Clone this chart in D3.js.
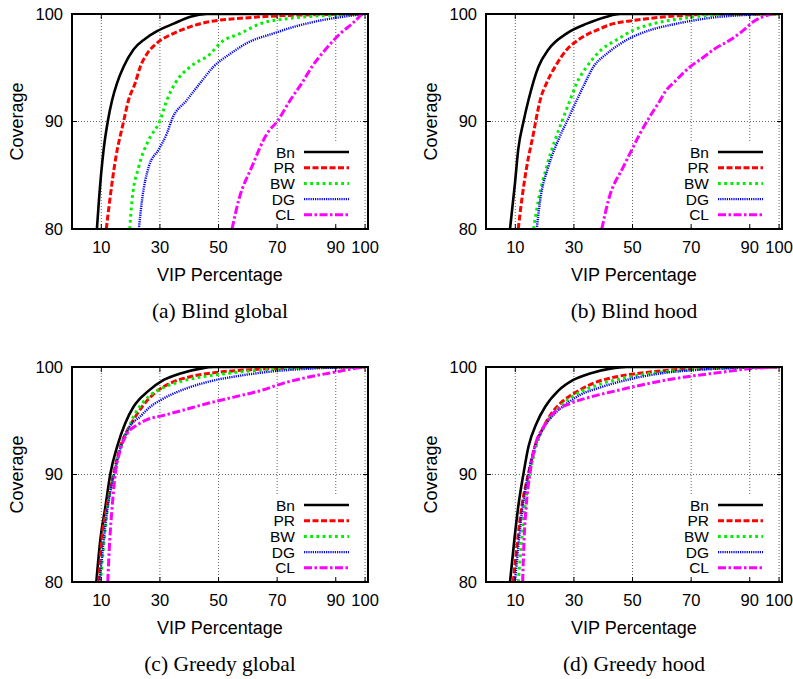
<!DOCTYPE html>
<html>
<head>
<meta charset="utf-8">
<script src="https://cdn.jsdelivr.net/npm/d3@7"></script>
<style>
body { margin: 0; background: #fff; }
svg { display: block; }
</style>
</head>
<body>
<svg width="793" height="679"></svg>
<script>
// tick values
const xTicks = [10, 30, 50, 70, 90, 100];
const yTicks = [80, 90, 100];
const seriesNames = ["Bn", "PR", "BW", "DG", "CL"];
const captions = ["(a) Blind global", "(b) Blind hood", "(c) Greedy global", "(d) Greedy hood"];

// (a) Blind global, [VIP %, coverage]
const blindGlobalBn = [[8.5,80],[9.2,82.7],[10.8,87.4],[12.2,90],[13.7,92],[15.4,93.6],[17.6,95.1],[21,96.7],[25,97.7],[29,98.4],[34.7,99.1],[40.4,99.75],[46,100],[100,100]];
const blindGlobalPR = [[11.7,80],[12.9,82.7],[14.8,86.4],[17.6,90],[19.3,92],[21.6,93.6],[23.3,95.1],[25.6,96.3],[29,97.3],[34.7,98.2],[39.2,98.7],[43.8,99.1],[49.5,99.4],[57.5,99.6],[72,99.85],[98.4,100]];
const blindGlobalBW = [[19.7,80],[20.5,82.7],[22.8,85.8],[26.2,88.3],[29.9,90],[32.4,92],[35.3,93.6],[40.4,95.1],[47.2,96.3],[50.6,97.3],[57.5,98.2],[64.3,99.1],[74.5,99.6],[89.3,99.9],[99,100]];
const blindGlobalDG = [[22.8,80],[23.9,82.7],[26.2,85.8],[29.6,87.4],[32.4,88.9],[34.1,90.2],[39.2,92],[43.8,93.6],[48.3,95.1],[54,96.3],[59.7,97.3],[68.8,98.2],[75.7,98.8],[84.8,99.4],[92.7,99.75],[99.5,100]];
const blindGlobalCL = [[54.6,80],[56.9,82.7],[61.4,85.8],[66.6,88.9],[70,90],[74.5,92],[78.5,93.6],[81.9,95.1],[86.5,96.7],[91.6,98.2],[95.6,99.1],[99,100]];

// (b) Blind hood
const blindHoodBn = [[8.2,80],[9.9,84.3],[11,87.4],[12.8,90],[14.5,92],[17.9,95.1],[21.3,96.7],[27.6,98.2],[34.4,99.1],[41.2,99.75],[45.8,100],[100,100]];
const blindHoodPR = [[11,80],[12.2,82.7],[13.9,85.8],[16.2,88.9],[17.3,90.5],[18.5,92],[20.7,93.6],[23.6,95.1],[27.6,96.7],[31.5,97.6],[37.8,98.5],[43.5,99.1],[50.3,99.4],[61.7,99.75],[78.8,100],[100,100]];
const blindHoodBW = [[16.2,80],[17.9,82.7],[20.7,85.8],[23.6,88.3],[25.9,90],[28.7,92],[31,93.6],[34.4,95.1],[39.5,96.7],[44.6,97.6],[50.3,98.5],[57.2,99.1],[67.4,99.6],[84.5,100],[100,100]];
const blindHoodDG = [[17.3,80],[18.5,82.7],[21.3,85.8],[24.7,88.3],[27.6,90],[31,92],[33.8,93.6],[36.7,95.1],[41.2,96.3],[48.1,97.6],[56,98.5],[65.1,99.1],[75.4,99.6],[87.9,99.9],[95.9,100]];
const blindHoodCL = [[39.5,80],[41.8,82.7],[46.9,85.8],[49.8,87.4],[52.6,88.9],[56,90.5],[59.5,92],[61.2,92.8],[64,93.6],[69.7,95.1],[74.3,96],[77.7,96.7],[83.4,97.6],[87.9,98.5],[91.3,99.3],[95,99.8],[97.6,100]];

// (c) Greedy global
const greedyGlobalBn = [[8.3,80],[9.7,84],[11.4,87],[13.1,90.1],[15.4,92.6],[18.2,94.8],[21,96.3],[26.2,97.8],[31.3,98.8],[37,99.4],[43.8,99.85],[48.4,100],[100,100]];
const greedyGlobalPR = [[9.1,80],[10.2,84],[11.9,87],[14.2,90.1],[16.5,92.6],[19.3,94.3],[21,95.1],[23.9,96.3],[27.9,97.5],[33.6,98.5],[40.4,99.1],[49.5,99.5],[60.9,99.75],[78,99.95],[99.5,100]];
const greedyGlobalBW = [[9.7,80],[12.2,87],[14.4,90.1],[16.7,92.6],[19.3,94.3],[21,95.4],[23.9,96.6],[27.3,97.5],[31.3,98.1],[39.2,98.8],[52.9,99.4],[64.3,99.7],[83.6,99.95],[99.5,100]];
const greedyGlobalDG = [[9.4,80],[12.2,87],[14.4,90.1],[16.7,92.6],[19.3,94.3],[23.3,95.4],[26.7,96.3],[30.1,96.9],[37,97.8],[46.1,98.6],[57.5,99.2],[68.8,99.6],[81.3,99.85],[99.5,100]];
const greedyGlobalCL = [[12.2,80],[12.9,84],[13.7,87],[14.8,90.1],[16.5,92.3],[18.8,93.8],[22.2,94.6],[25.6,95.1],[31.3,95.5],[38.1,96],[46.1,96.6],[55.2,97.2],[64.3,97.8],[72.2,98.5],[81.3,99.1],[89.3,99.5],[96.1,99.85],[100,100]];

// (d) Greedy hood
const greedyHoodBn = [[8.2,80],[9.7,84],[11,87],[12.8,90.1],[14.5,92.6],[17.3,94.8],[20.2,96.3],[24.7,97.8],[29.8,98.8],[35.5,99.4],[42.4,99.85],[48,100],[100,100]];
const greedyHoodPR = [[9.3,80],[12.2,87],[14.5,90.1],[16.7,92.6],[19.6,94.4],[22.4,95.7],[25.3,96.6],[29.8,97.5],[36.7,98.5],[44.6,99.1],[54.9,99.5],[70.8,99.85],[99.3,100]];
const greedyHoodBW = [[11,80],[13.3,87],[15,90.1],[17.1,92.6],[19.8,94.4],[23,95.7],[26.4,96.6],[31,97.5],[37.8,98.3],[45.8,98.9],[56,99.4],[70.8,99.75],[99.3,100]];
const greedyHoodDG = [[9.9,80],[12.5,87],[14.5,90.1],[16.7,92.6],[19.8,94.4],[23.6,95.7],[27.6,96.6],[32.1,97.4],[39,98.1],[48.1,98.8],[59.5,99.4],[73.1,99.75],[99.3,100]];
const greedyHoodCL = [[12.5,80],[13,84],[13.7,87],[15,90.1],[16.7,92.6],[19.6,94.4],[23,95.7],[28.7,96.6],[35.5,97.2],[44.6,97.8],[56,98.5],[68.6,99.1],[80,99.5],[90.2,99.85],[99.3,100]];

const panelData = [
	[blindGlobalBn, blindGlobalPR, blindGlobalBW, blindGlobalDG, blindGlobalCL],
	[blindHoodBn, blindHoodPR, blindHoodBW, blindHoodDG, blindHoodCL],
	[greedyGlobalBn, greedyGlobalPR, greedyGlobalBW, greedyGlobalDG, greedyGlobalCL],
	[greedyHoodBn, greedyHoodPR, greedyHoodBW, greedyHoodDG, greedyHoodCL]
];

// line styles, same order as seriesNames
let styles = [
	{color: "#000000", width: 2.6, dash: null},
	{color: "#ff0000", width: 3, dash: "6,2.5"},
	{color: "#00f000", width: 3, dash: "2.8,3.4"},
	{color: "#0000ff", width: 2.4, dash: "1.2,1"},
	{color: "#ff00ff", width: 3, dash: "8,2.5,2.5,2.5"}
];

var svg = d3.select("svg"),
	origins = [[72, 14], [486, 14], [72, 367], [486, 367]],
	width = 296,
	height = 215;

var x = d3.scaleLinear().domain([0, 101]).range([0, width]);
var y = d3.scaleLinear().domain([80, 100]).range([height, 0]);

var line = d3.line()
	.curve(d3.curveMonotoneX)
	.x(function(d) { return x(d[0]); })
	.y(function(d) { return y(d[1]); });

svg.append("defs").append("clipPath")
	.attr("id", "plotclip")
	.append("rect")
	.attr("width", width)
	.attr("height", height);

panelData.forEach(function(series, p) {
	let g = svg.append("g")
		.attr("transform", "translate(" + origins[p][0] + "," + origins[p][1] + ")");

	// grid
	g.selectAll(".vgrid")
		.data(xTicks)
		.enter().append("line")
		.attr("x1", function(d) { return x(d); })
		.attr("x2", function(d) { return x(d); })
		.attr("y1", 0)
		.attr("y2", height)
		.style("stroke", "#666")
		.style("stroke-width", 1)
		.style("stroke-dasharray", "1,2");
	g.append("line")
		.attr("x1", 0)
		.attr("x2", width)
		.attr("y1", y(90))
		.attr("y2", y(90))
		.style("stroke", "#666")
		.style("stroke-width", 1)
		.style("stroke-dasharray", "1,2");

	// curves
	let plot = g.append("g").attr("clip-path", "url(#plotclip)");
	series.forEach(function(pts, i) {
		plot.append("path")
			.datum(pts)
			.attr("fill", "none")
			.attr("stroke", styles[i].color)
			.attr("stroke-width", styles[i].width)
			.attr("stroke-dasharray", styles[i].dash)
			.attr("d", line);
	});

	// legend, opaque box
	let legend = g.append("g");
	legend.append("rect")
		.attr("x", 196)
		.attr("y", 128)
		.attr("width", 90)
		.attr("height", 85)
		.attr("fill", "#fff");
	seriesNames.forEach(function(name, i) {
		let ly = 138 + i * 15.7;
		legend.append("text")
			.attr("x", 223)
			.attr("y", ly)
			.attr("dy", "0.36em")
			.attr("text-anchor", "end")
			.style("font-family", "'Liberation Sans', Arial, sans-serif")
			.style("font-size", "15.5px")
			.text(name);
		legend.append("line")
			.attr("x1", 232)
			.attr("x2", 277)
			.attr("y1", ly)
			.attr("y2", ly)
			.attr("stroke", styles[i].color)
			.attr("stroke-width", styles[i].width)
			.attr("stroke-dasharray", styles[i].dash);
	});

	// ticks, inward on all sides
	xTicks.forEach(function(t) {
		g.append("line").attr("x1", x(t)).attr("x2", x(t)).attr("y1", height).attr("y2", height - 5).style("stroke", "black");
		g.append("line").attr("x1", x(t)).attr("x2", x(t)).attr("y1", 0).attr("y2", 5).style("stroke", "black");
	});
	yTicks.forEach(function(t) {
		g.append("line").attr("x1", 0).attr("x2", 5).attr("y1", y(t)).attr("y2", y(t)).style("stroke", "black");
		g.append("line").attr("x1", width).attr("x2", width - 5).attr("y1", y(t)).attr("y2", y(t)).style("stroke", "black");
	});

	// frame
	g.append("rect")
		.attr("width", width)
		.attr("height", height)
		.attr("fill", "none")
		.attr("stroke", "black")
		.attr("stroke-width", 2);

	// tick labels
	g.selectAll(".xlab")
		.data(xTicks)
		.enter().append("text")
		.attr("x", function(d) { return x(d); })
		.attr("y", height + 18)
		.attr("dy", "0.36em")
		.attr("text-anchor", "middle")
		.style("font-family", "'Liberation Sans', Arial, sans-serif")
		.style("font-size", "16.5px")
		.text(function(d) { return d; });
	g.selectAll(".ylab")
		.data(yTicks)
		.enter().append("text")
		.attr("x", -9)
		.attr("y", function(d) { return y(d); })
		.attr("dy", "0.36em")
		.attr("text-anchor", "end")
		.style("font-family", "'Liberation Sans', Arial, sans-serif")
		.style("font-size", "16.5px")
		.text(function(d) { return d; });

	// axis titles
	g.append("text")
		.attr("x", width / 2)
		.attr("y", height + 46)
		.attr("dy", "0.36em")
		.attr("text-anchor", "middle")
		.style("font-family", "'Liberation Sans', Arial, sans-serif")
		.style("font-size", "18px")
		.text("VIP Percentage");
	g.append("text")
		.attr("transform", "translate(-55," + (height / 2) + ") rotate(-90)")
		.attr("dy", "0.36em")
		.attr("text-anchor", "middle")
		.style("font-family", "'Liberation Sans', Arial, sans-serif")
		.style("font-size", "18px")
		.text("Coverage");

	// caption
	g.append("text")
		.attr("x", width / 2)
		.attr("y", height + 81)
		.attr("dy", "0.36em")
		.attr("text-anchor", "middle")
		.style("font-family", "'Liberation Serif', 'Times New Roman', serif")
		.style("font-size", "21.5px")
		.text(captions[p]);
});
</script>
</body>
</html>
